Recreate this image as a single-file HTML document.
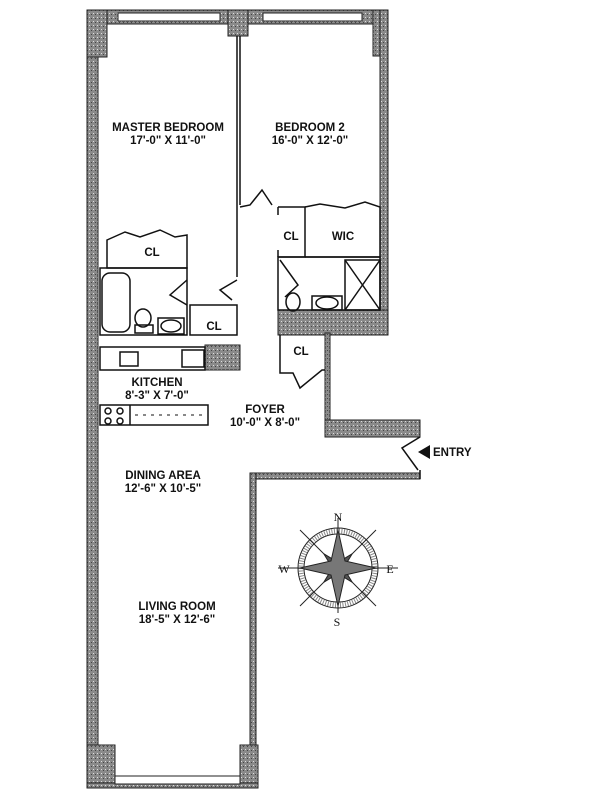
<!DOCTYPE html>
<html><head><meta charset="utf-8"><style>
html,body{margin:0;padding:0;background:#fff;}
svg{display:block;}
text{font-family:"Liberation Sans",Arial,sans-serif;font-weight:bold;font-size:11.5px;fill:#111;}
.s{font-family:"Liberation Serif",serif;font-weight:normal;font-size:12px;}
</style></head><body>
<svg width="600" height="800" viewBox="0 0 600 800" xmlns="http://www.w3.org/2000/svg">
<defs>
<pattern id="h" width="4" height="4" patternUnits="userSpaceOnUse">
<rect width="4" height="4" fill="#8a8a8a"/><rect x="1" y="1" width="1" height="1" fill="#ddd"/><rect x="3" y="2" width="1" height="1" fill="#444"/>
</pattern>
</defs>
<g fill="url(#h)" stroke="#222" stroke-width="1">
<rect x="87" y="10" width="11" height="778"/>
<rect x="87" y="10" width="301" height="14"/>
<rect x="87" y="10" width="20" height="47"/>
<rect x="228" y="10" width="20" height="26"/>
<rect x="373" y="10" width="15" height="46"/>
<rect x="380" y="10" width="8" height="325"/>
<rect x="278" y="310" width="110" height="25"/>
<rect x="325" y="333" width="5" height="104"/>
<rect x="325" y="420" width="95" height="17"/>
<rect x="250" y="473" width="170" height="6"/>
<rect x="250" y="473" width="6" height="315"/>
<rect x="87" y="745" width="28" height="43"/>
<rect x="240" y="745" width="18" height="43"/>
<rect x="87" y="783" width="171" height="5"/>
<rect x="205" y="345" width="35" height="25"/>
</g>
<g fill="#fff" stroke="#222">
<rect x="118" y="13" width="102" height="8"/>
<rect x="263" y="13" width="99" height="8"/>
<rect x="115" y="776" width="125" height="8"/>
</g>
<g stroke="#111" fill="none" stroke-width="1.5">
<line x1="237" y1="36" x2="237" y2="277"/>
<line x1="240" y1="36" x2="240" y2="205"/>
<polyline points="240,207 250,205 262,190 272,205"/>
<path d="M107,240 L125,232 L140,237 L160,230 L175,237 L187,235 L187,268 L107,268 Z"/>
<rect x="100" y="268" width="87" height="67"/>
<rect x="102" y="273" width="28" height="59" rx="8"/>
<ellipse cx="143" cy="318" rx="8" ry="9"/>
<rect x="135" y="325" width="18" height="8"/>
<rect x="158" y="318" width="26" height="16"/>
<ellipse cx="171" cy="326" rx="10" ry="6"/>
<polyline points="187,280 170,295 187,305"/>
<rect x="190" y="305" width="47" height="30"/>
<polyline points="237,280 220,290 232,300"/>
<rect x="100" y="347" width="105" height="23"/>
<rect x="120" y="352" width="18" height="14"/>
<rect x="182" y="350" width="22" height="17"/>
<rect x="100" y="405" width="108" height="20"/>
<line x1="130" y1="405" x2="130" y2="425"/>
<line x1="135" y1="415" x2="205" y2="415" stroke-dasharray="3,5" stroke-width="1"/>
<circle cx="108" cy="411" r="3"/><circle cx="120" cy="411" r="3"/>
<circle cx="108" cy="421" r="3"/><circle cx="120" cy="421" r="3"/>
<path d="M278,207 L305,207 L305,257 L278,257"/>
<line x1="278" y1="207" x2="278" y2="215"/>
<line x1="278" y1="250" x2="278" y2="257"/>
<path d="M305,207 L320,204 L345,208 L365,202 L380,207 L380,257 L305,257"/>
<rect x="278" y="257" width="102" height="53"/>
<polyline points="280,260 298,285 285,297"/>
<ellipse cx="293" cy="302" rx="7" ry="9"/>
<rect x="312" y="296" width="30" height="14"/>
<ellipse cx="327" cy="303" rx="11" ry="6"/>
<rect x="345" y="260" width="35" height="50"/>
<line x1="345" y1="260" x2="380" y2="310"/><line x1="380" y1="260" x2="345" y2="310"/>
<path d="M280,335 L280,373 L293,373 L300,388 L322,370 L325,370"/>
<polyline points="420,437 402,448 418,470"/>
<line x1="420" y1="470" x2="420" y2="479"/>
</g>
<polygon points="418,452 430,445 430,459" fill="#111"/>
<g transform="translate(338,568)" stroke="#222" fill="none">
<circle r="40" stroke-width="1"/><circle r="34" stroke-width="1"/><circle r="37" stroke="#888" stroke-width="5" stroke-dasharray="1,1.5"/>
<line x1="-60" y1="0" x2="60" y2="0"/><line x1="0" y1="-50" x2="0" y2="45"/>
<line x1="-38" y1="-38" x2="38" y2="38"/><line x1="38" y1="-38" x2="-38" y2="38"/>
<polygon points="0,-20 4,-4 20,0 4,4 0,20 -4,4 -20,0 -4,-4" fill="#555" transform="rotate(45)"/>
<polygon points="0,-38 7,-7 38,0 7,7 0,38 -7,7 -38,0 -7,-7" fill="#777"/>
</g>
<text class="s" x="338" y="521" text-anchor="middle">N</text>
<text class="s" x="337" y="626" text-anchor="middle">S</text>
<text class="s" x="284" y="573" text-anchor="middle">W</text>
<text class="s" x="390" y="573" text-anchor="middle">E</text>
<g text-anchor="middle">
<text x="168" y="131">MASTER BEDROOM</text>
<text x="168" y="144">17'-0" X 11'-0"</text>
<text x="310" y="131">BEDROOM 2</text>
<text x="310" y="144">16'-0" X 12'-0"</text>
<text x="152" y="256">CL</text>
<text x="291" y="240">CL</text>
<text x="343" y="240">WIC</text>
<text x="214" y="330">CL</text>
<text x="301" y="355">CL</text>
<text x="157" y="386">KITCHEN</text>
<text x="157" y="399">8'-3" X 7'-0"</text>
<text x="265" y="413">FOYER</text>
<text x="265" y="426">10'-0" X 8'-0"</text>
<text x="163" y="479">DINING AREA</text>
<text x="163" y="492">12'-6" X 10'-5"</text>
<text x="177" y="610">LIVING ROOM</text>
<text x="177" y="623">18'-5" X 12'-6"</text>
</g>
<text x="433" y="456">ENTRY</text>
</svg>
</body></html>
